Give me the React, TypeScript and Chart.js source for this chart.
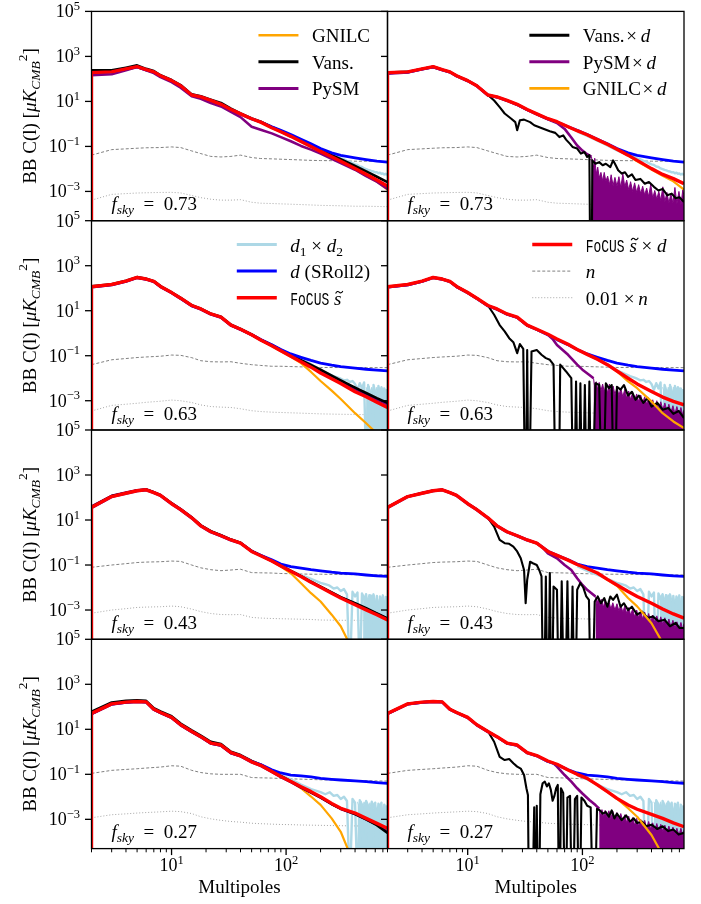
import React, { useEffect, useRef } from 'react';
import { Chart, registerables } from 'chart.js';

Chart.register(...registerables);

// ======================= DATA =======================
const ell = [2, 3, 4, 5, 6, 7, 8, 10, 12, 15, 18, 22, 27, 33, 40, 50, 60, 75, 90, 110, 135, 165, 200, 250, 300, 400, 500, 620, 768];
const ellFocus = [2, 2, 3, 4, 5, 6, 7, 8, 10, 12, 15, 18, 22, 27, 33, 40, 50, 60, 75, 90, 110, 135, 165, 200, 250, 300, 400, 500, 620, 768];
const ellNoise = [2, 3, 4, 5, 6, 8, 10, 12, 15, 18, 22, 27, 33, 40, 50, 60, 75, 90, 110, 135, 165, 200, 300, 400, 500, 768];
const ellD12 = [90, 110, 135, 165, 200, 220, 240, 260, 280, 300, 320, 340, 360, 380, 400, 420, 440, 460, 480, 500, 520, 540, 560, 580, 600, 620, 640, 660, 680, 700, 720, 740, 768];

const fskyLabels = ['0.73', '0.63', '0.43', '0.27'];
const yTickExp = [5, 3, 1, -1, -3];
const xMajorExp = [1, 2];
const xMinorTicks = [2, 3, 4, 5, 6, 7, 8, 9, 20, 30, 40, 50, 60, 70, 80, 90, 200, 300, 400, 500, 600, 700];

// ---- row 1 : fsky = 0.73 ----
const focus_r1 = [1e-9, 190, 205, 280, 350, 258, 205, 138, 84, 50, 19.3, 16, 11.2, 7.4, 4.4, 2.8, 1.7, 1.2, 0.68, 0.45, 0.28, 0.165, 0.1, 0.06, 0.035, 0.022, 0.0105, 0.0058, 0.0032, 0.0017];
const vans_r1 = [240, 240, 316, 400, 280, 224, 145, 89, 53, 20.5, 17, 12, 8.6, 4.8, 2.9, 1.75, 1.25, 0.73, 0.49, 0.31, 0.19, 0.115, 0.07, 0.041, 0.027, 0.0135, 0.0078, 0.0045, 0.0026];
const pysm_r1 = [145, 160, 240, 340, 240, 182, 120, 72, 41, 17, 13, 8.5, 6, 3.4, 2.0, 0.75, 0.55, 0.38, 0.26, 0.17, 0.105, 0.072, 0.048, 0.028, 0.018, 0.0092, 0.0048, 0.0027, 0.0013];
const gnilc_r1 = [188, 203, 277, 346, 255, 203, 136, 83, 49.5, 19.1, 15.8, 11, 7.3, 4.35, 2.75, 1.65, 1.17, 0.66, 0.44, 0.27, 0.16, 0.097, 0.058, 0.033, 0.02, 0.0095, 0.005, 0.0027, 0.0012];
const d_r1 = [185, 200, 273, 342, 252, 200, 134, 82, 49, 18.9, 15.7, 10.9, 7.2, 4.3, 2.75, 1.68, 1.22, 0.75, 0.52, 0.34, 0.21, 0.13, 0.08, 0.052, 0.04, 0.031, 0.026, 0.022, 0.020];
const d12_r1 = [0.45, 0.29, 0.18, 0.11, 0.066, 0.054, 0.046, 0.039, 0.034, 0.029, 0.027, 0.023, 0.021, 0.018, 0.016, 0.015, 0.0128, 0.0122, 0.0105, 0.0098, 0.009, 0.0086, 0.0079, 0.0077, 0.007, 0.0072, 0.0064, 0.0068, 0.006, 0.0063, 0.0057, 0.0061, 0.0055];
const d12fill_r1: number[][] = [];
const n_r1 = [0.041, 0.072, 0.078, 0.083, 0.087, 0.089, 0.095, 0.089, 0.063, 0.048, 0.036, 0.034, 0.036, 0.041, 0.032, 0.029, 0.028, 0.027, 0.026, 0.025, 0.024, 0.0235, 0.023, 0.022, 0.022, 0.021];
const n01_r1 = [4.1e-4, 7.4e-4, 8e-4, 8.5e-4, 8.7e-4, 9e-4, 9.1e-4, 8.6e-4, 6.6e-4, 5.3e-4, 4.5e-4, 4.1e-4, 4.1e-4, 4.3e-4, 3.3e-4, 3.0e-4, 2.9e-4, 2.8e-4, 2.7e-4, 2.6e-4, 2.5e-4, 2.4e-4, 2.3e-4, 2.2e-4, 2.2e-4, 2.1e-4];
const focusD_r1 = [1e-9, 190, 205, 280, 350, 258, 205, 138, 84, 50, 19.3, 16, 11.2, 7.4, 4.4, 2.8, 1.7, 1.25, 0.75, 0.5, 0.33, 0.2, 0.125, 0.075, 0.041, 0.024, 0.0103, 0.0057, 0.0037, 0.0022];
const gnilcD_r1 = [188, 203, 277, 346, 255, 203, 136, 83, 49.5, 19.1, 15.8, 11, 7.3, 4.35, 2.75, 1.68, 1.23, 0.73, 0.49, 0.32, 0.195, 0.12, 0.072, 0.039, 0.022, 0.0095, 0.005, 0.0028, 0.0012];
const pysmD_r1 = [[2, 170], [3, 195], [4, 270], [5, 330], [6, 250], [7, 200], [8, 135], [10, 82], [12, 49], [15, 18.8], [18, 15.5], [22, 10.9], [27, 7.0], [33, 4.2], [40, 2.7], [50, 1.6], [60, 1.1], [70, 0.6], [80, 0.25], [90, 0.11], [100, 0.065], [110, 0.045], [120, 0.034]];
const pysmDnoise_r1 = [[120, 0.034], [124, 0.01], [128, 0.03], [132, 0.006], [136, 0.012], [140, 0.004], [145, 0.007], [150, 0.003], [155, 0.007], [160, 0.0028], [166, 0.0048], [172, 0.002], [178, 0.0055], [185, 0.0018], [192, 0.0042], [200, 0.0017], [208, 0.0045], [216, 0.0015], [225, 0.006], [234, 0.0016], [243, 0.0032], [253, 0.0012], [263, 0.0027], [274, 0.001], [285, 0.0024], [297, 0.0009], [309, 0.002], [322, 0.0008], [335, 0.0017], [349, 0.0007], [363, 0.0014], [378, 0.0006], [394, 0.0021], [410, 0.0005], [427, 0.0011], [445, 0.00045], [463, 0.001], [482, 0.0004], [502, 0.0016], [523, 0.00035], [545, 0.0009], [567, 0.0003], [590, 0.0008], [615, 0.0003], [640, 0.0015], [666, 0.00028], [694, 0.001], [722, 0.00025], [750, 0.0012], [768, 0.0006]];
const vansD_r1 = [[2, 195], [3, 210], [4, 285], [5, 355], [6, 262], [7, 210], [8, 141], [10, 86], [12, 51], [15, 19.5], [17, 11], [19, 5.6], [21, 2.9], [24, 1.7], [26, 1.2], [27, 0.52], [28.5, 1.45], [31, 1.55], [35, 1.2], [38, 0.87], [45, 0.62], [52, 0.47], [58, 0.40], [63, 0.26], [68, 0.31], [72, 0.2], [78, 0.13], [82, 0.095], [90, 0.08], [97, 0.048], [104, 0.056], [110, 0.034], [115, 0.041], [118, 1e-9], [120, 1e-9], [122, 0.024], [130, 0.017], [140, 0.02], [150, 0.0145], [160, 0.017], [175, 0.012], [185, 0.024], [195, 0.0145], [205, 0.0087], [220, 0.0062], [235, 0.0071], [250, 0.0044], [270, 0.0057], [290, 0.0032], [320, 0.0036], [350, 0.0022], [380, 0.0026], [420, 0.0016], [460, 0.0011], [500, 0.0013], [550, 6.7e-4], [600, 8e-4], [650, 5e-4], [700, 5.5e-4], [768, 3.4e-4]];

// ---- row 2 : fsky = 0.63 ----
const focus_r2 = [1e-9, 116, 146, 207, 300, 256, 200, 120, 64, 36, 17, 12, 7.2, 5.2, 2.3, 1.5, 0.85, 0.5, 0.28, 0.165, 0.095, 0.054, 0.031, 0.017, 0.0095, 0.0058, 0.0025, 0.0015, 0.00085, 0.0005];
const vans_r2 = [121, 151, 214, 310, 264, 206, 124, 66, 37, 17.5, 12.4, 7.4, 5.4, 2.4, 1.55, 0.88, 0.52, 0.3, 0.18, 0.105, 0.064, 0.039, 0.024, 0.013, 0.008, 0.0038, 0.0022, 0.0013, 0.0008];
const pysm_r2 = [114, 144, 204, 295, 252, 197, 118, 63, 35, 16.7, 11.8, 7.1, 5.1, 2.25, 1.47, 0.84, 0.5, 0.285, 0.17, 0.1, 0.058, 0.034, 0.02, 0.011, 0.0068, 0.0033, 0.0019, 0.0011, 0.0007];
const gnilc_r2 = [114, 144, 204, 295, 252, 197, 118, 63, 35, 16.7, 11.8, 7.1, 5.1, 2.25, 1.47, 0.83, 0.49, 0.27, 0.158, 0.09, 0.047, 0.019, 0.0075, 0.0028, 0.0012, 2.8e-4, 1.0e-4, 3.5e-5, 1e-5];
const d_r2 = [112, 142, 202, 292, 250, 195, 117, 62, 35, 16.5, 11.7, 7.0, 5.0, 2.25, 1.47, 0.86, 0.52, 0.31, 0.19, 0.12, 0.085, 0.062, 0.047, 0.038, 0.033, 0.028, 0.025, 0.023, 0.021];
const d12_r2 = [0.18, 0.11, 0.068, 0.042, 0.022, 0.018, 0.015, 0.0125, 0.011, 0.0095, 0.008, 0.0085, 0.0068, 0.0075, 0.0055, 0.003, 0.006, 0.0035, 0.0065, 1e-6, 0.005, 0.0025, 1e-6, 0.005, 0.0022, 1e-6, 0.0045, 0.002, 0.004, 1e-6, 0.0035, 0.0018, 0.003];
const d12fill_r2 = [[500, 0.004], [515, 0.0025], [530, 0.0045], [545, 0.002], [560, 0.004], [575, 0.0022], [590, 0.0045], [605, 0.002], [620, 0.004], [640, 0.0018], [660, 0.0035], [680, 0.002], [700, 0.0038], [720, 0.0018], [740, 0.0032], [768, 0.003]];
const n_r2 = [0.040, 0.066, 0.075, 0.083, 0.088, 0.095, 0.107, 0.104, 0.082, 0.06, 0.054, 0.053, 0.054, 0.046, 0.04, 0.037, 0.034, 0.034, 0.033, 0.032, 0.031, 0.030, 0.0298, 0.0297, 0.0296, 0.0295];
const n01_r2 = [3.5e-4, 6.2e-4, 7e-4, 7.7e-4, 8.5e-4, 9.5e-4, 1.07e-3, 1.0e-3, 8.3e-4, 6.5e-4, 5.5e-4, 5.2e-4, 5e-4, 4.4e-4, 3.6e-4, 3.3e-4, 3.1e-4, 3e-4, 2.9e-4, 2.8e-4, 2.7e-4, 2.6e-4, 2.5e-4, 2.45e-4, 2.4e-4, 2.4e-4];
const focusD_r2 = [1e-9, 116, 146, 207, 300, 256, 200, 120, 64, 36, 17, 12, 7.2, 5.2, 2.3, 1.5, 0.9, 0.55, 0.32, 0.19, 0.115, 0.07, 0.04, 0.021, 0.01, 0.0056, 0.0026, 0.00145, 0.00093, 0.00066];
const gnilcD_r2 = [114, 144, 204, 295, 252, 197, 118, 63, 35, 16.7, 11.8, 7.1, 5.1, 2.25, 1.47, 0.88, 0.54, 0.315, 0.187, 0.113, 0.069, 0.039, 0.02, 0.0072, 0.0036, 9.3e-4, 2.8e-4, 1.2e-4, 6.1e-5];
const pysmD_r2 = [[2, 110], [3, 140], [4, 200], [5, 292], [6, 250], [7, 195], [8, 116], [10, 62], [12, 35], [15, 16.5], [18, 11.6], [22, 7.0], [27, 5.0], [33, 2.2], [40, 1.45], [50, 0.85], [55, 0.55], [60, 0.3], [75, 0.11], [90, 0.04], [100, 0.024], [115, 0.014], [125, 0.01]];
const pysmDnoise_r2 = [[125, 0.01], [128, 0.004], [132, 0.007], [136, 0.003], [140, 0.0065], [145, 0.0028], [150, 0.0055], [155, 0.0025], [160, 0.005], [166, 0.0022], [172, 0.0055], [178, 0.002], [185, 0.0045], [192, 0.0019], [200, 0.004], [208, 0.0017], [216, 0.0035], [225, 0.0015], [234, 0.0032], [243, 0.0013], [253, 0.0027], [263, 0.0011], [274, 0.0024], [285, 0.001], [297, 0.002], [309, 0.0009], [322, 0.0018], [335, 0.0008], [349, 0.0015], [363, 0.0007], [378, 0.0013], [394, 0.0006], [410, 0.0011], [427, 0.0005], [445, 0.001], [463, 0.00045], [482, 0.0009], [502, 0.0004], [523, 0.0008], [545, 0.00035], [567, 0.0007], [590, 0.0003], [615, 0.0006], [640, 0.00027], [666, 0.00055], [694, 0.00024], [722, 0.0005], [750, 0.00022], [768, 0.0004]];
const vansD_r2 = [[2, 118], [3, 148], [4, 210], [5, 305], [6, 260], [7, 204], [8, 123], [10, 66], [12, 37], [15, 17], [17, 6.6], [19, 2.3], [21, 1.2], [23, 0.6], [25, 0.4], [27, 0.13], [28.5, 0.33], [30.5, 0.2], [32, 1e-9], [33, 0.18], [34, 1e-9], [36, 0.155], [40, 0.18], [44, 0.11], [48, 0.078], [52, 0.066], [56, 0.04], [59, 1e-9], [62, 1e-9], [64, 0.04], [68, 0.028], [72, 0.02], [76, 0.014], [80, 0.01], [84, 1e-9], [88, 0.0072], [92, 1e-9], [96, 0.006], [100, 1e-9], [105, 0.005], [110, 1e-9], [115, 0.0072], [120, 1e-9], [130, 0.006], [140, 0.005], [150, 1e-9], [160, 0.006], [170, 0.0036], [180, 0.005], [190, 1e-9], [200, 0.0042], [215, 0.0031], [230, 0.005], [250, 0.0017], [270, 0.0025], [290, 0.0011], [310, 0.0017], [340, 8e-4], [370, 0.0013], [400, 5.5e-4], [450, 8e-4], [500, 4e-4], [560, 4.8e-4], [620, 2.6e-4], [690, 3.5e-4], [768, 1.7e-4]];

// ---- row 3 : fsky = 0.43 ----
const focus_r3 = [1e-9, 36, 110, 155, 200, 220, 165, 124, 53, 29, 12.5, 5.5, 3.0, 2.0, 1.3, 0.93, 0.40, 0.26, 0.15, 0.09, 0.053, 0.031, 0.017, 0.0103, 0.0056, 0.0034, 0.0017, 0.00102, 0.00062, 0.00036];
const vans_r3 = [38, 115, 160, 205, 225, 170, 127, 55, 30, 13, 5.8, 3.2, 2.1, 1.35, 0.97, 0.42, 0.27, 0.155, 0.093, 0.055, 0.032, 0.018, 0.011, 0.006, 0.0037, 0.002, 0.0012, 7e-4, 4.2e-4];
const pysm_r3 = [40, 118, 165, 208, 228, 172, 129, 56, 30.5, 13.1, 5.7, 3.1, 2.05, 1.33, 0.95, 0.41, 0.265, 0.152, 0.091, 0.054, 0.0315, 0.0175, 0.0105, 0.0058, 0.0036, 0.0019, 0.0011, 6.8e-4, 4.0e-4];
const gnilc_r3 = [36, 110, 155, 200, 220, 165, 124, 53, 29, 12.5, 5.5, 3.0, 2.0, 1.3, 0.93, 0.40, 0.26, 0.15, 0.085, 0.043, 0.0156, 0.0056, 0.0024, 6.2e-4, 1.9e-4, 1e-5, 1e-6, 1e-7, 1e-8];
const d_r3 = [35, 108, 152, 196, 216, 162, 122, 52, 28.5, 12.2, 5.4, 2.95, 1.97, 1.28, 0.93, 0.41, 0.27, 0.17, 0.11, 0.085, 0.073, 0.062, 0.055, 0.048, 0.044, 0.04, 0.036, 0.033, 0.031];
const d12_r3 = [0.088, 0.055, 0.036, 0.024, 0.016, 0.014, 0.012, 0.009, 0.01, 0.007, 0.0085, 0.005, 1e-6, 0.0065, 0.004, 0.006, 1e-6, 0.0055, 0.003, 0.005, 1e-6, 0.0045, 0.0025, 0.005, 1e-6, 0.0042, 1e-6, 0.004, 0.002, 0.0045, 1e-6, 0.0038, 0.0035];
const d12fill_r3 = [[470, 0.005], [485, 0.003], [500, 0.0055], [515, 0.0028], [530, 0.005], [545, 0.0025], [560, 0.0048], [575, 0.0025], [590, 0.0045], [605, 0.0022], [620, 0.0045], [640, 0.0022], [660, 0.004], [680, 0.002], [700, 0.0042], [720, 0.002], [740, 0.0038], [768, 0.0035]];
const n_r3 = [0.079, 0.1, 0.115, 0.129, 0.135, 0.14, 0.15, 0.145, 0.1, 0.075, 0.062, 0.056, 0.06, 0.065, 0.046, 0.045, 0.044, 0.042, 0.041, 0.040, 0.039, 0.039, 0.038, 0.037, 0.037, 0.036];
const n01_r3 = [7.2e-4, 1.0e-3, 1.15e-3, 1.3e-3, 1.35e-3, 1.4e-3, 1.5e-3, 1.4e-3, 1.1e-3, 8.5e-4, 7e-4, 6.3e-4, 6.2e-4, 6.3e-4, 4.7e-4, 4.4e-4, 4.2e-4, 4.1e-4, 4.0e-4, 3.9e-4, 3.8e-4, 3.6e-4, 3.5e-4, 3.5e-4, 3.4e-4, 3.4e-4];
const focusD_r3 = [1e-9, 36, 110, 155, 200, 220, 165, 124, 53, 29, 12.5, 5.5, 3.0, 2.0, 1.3, 0.93, 0.40, 0.27, 0.165, 0.105, 0.07, 0.044, 0.023, 0.013, 0.0066, 0.004, 0.002, 0.00112, 0.00067, 0.00044];
const gnilcD_r3 = [35, 108, 152, 196, 216, 162, 122, 52, 28.5, 12.3, 5.4, 2.95, 1.97, 1.28, 0.91, 0.39, 0.265, 0.162, 0.103, 0.068, 0.043, 0.022, 0.012, 0.0034, 0.00145, 2.6e-4, 3.5e-5, 5e-6, 1e-6];
const pysmD_r3 = [[2, 37], [3, 112], [4, 158], [5, 204], [6, 223], [7, 167], [8, 126], [10, 54], [12, 29.5], [15, 12.7], [18, 5.6], [22, 3.0], [27, 2.0], [33, 1.32], [40, 0.94], [45, 0.6], [50, 0.33], [60, 0.2], [70, 0.1], [80, 0.06], [90, 0.026], [100, 0.013], [110, 0.0079], [120, 0.0056], [130, 0.004]];
const pysmDnoise_r3 = [[130, 0.004], [134, 0.0018], [138, 0.0035], [142, 0.0015], [147, 0.003], [152, 0.0013], [158, 0.0028], [164, 0.0012], [170, 0.0025], [177, 0.0011], [184, 0.0021], [192, 0.001], [200, 0.0019], [208, 0.0009], [216, 0.0017], [225, 0.0008], [234, 0.0015], [243, 0.0007], [253, 0.0013], [263, 0.0006], [274, 0.0011], [285, 0.0005], [297, 0.001], [309, 0.00045], [322, 0.0009], [335, 0.0004], [349, 0.0008], [363, 0.00035], [378, 0.0007], [394, 0.0003], [410, 0.0006], [427, 0.00028], [445, 0.00055], [463, 0.00025], [482, 0.0005], [502, 0.00022], [523, 0.00045], [545, 0.0002], [567, 0.0004], [590, 0.00018], [615, 0.00035], [640, 0.00016], [666, 0.0003], [694, 0.00014], [722, 0.00028], [750, 0.00013], [768, 0.00025]];
const vansD_r3 = [[2, 37], [3, 112], [4, 157], [5, 203], [6, 223], [7, 167], [8, 126], [10, 54], [12, 29.5], [15, 12.3], [17, 5.1], [19, 1.3], [21, 0.93], [23, 0.88], [25, 0.66], [27, 0.40], [29, 0.2], [31, 0.06], [32, 0.002], [33, 0.022], [35, 0.14], [37, 0.12], [40, 0.1], [42, 0.06], [44, 0.031], [46, 1e-9], [48, 0.031], [50, 1e-9], [52, 0.044], [54, 1e-9], [56, 0.011], [60, 0.008], [63, 1e-9], [66, 0.019], [70, 1e-9], [74, 0.019], [78, 1e-9], [82, 0.011], [86, 1e-9], [90, 0.008], [96, 0.016], [102, 0.0097], [108, 0.004], [114, 0.0028], [120, 1e-9], [128, 0.0024], [136, 0.004], [145, 0.002], [155, 0.0034], [165, 0.0014], [175, 0.004], [185, 0.0028], [200, 0.0048], [215, 0.0014], [230, 0.002], [250, 0.001], [270, 0.0014], [300, 6.2e-4], [330, 8.6e-4], [370, 4.4e-4], [410, 5.2e-4], [460, 3.2e-4], [520, 3.7e-4], [580, 1.9e-4], [650, 2.7e-4], [700, 1.6e-4], [768, 1.6e-4]];

// ---- row 4 : fsky = 0.27 ----
const focus_r4 = [1e-9, 51, 135, 161, 173, 166, 78, 56, 34, 16, 8, 4.7, 2.45, 2.0, 0.92, 0.66, 0.36, 0.25, 0.135, 0.08, 0.048, 0.028, 0.017, 0.010, 0.0051, 0.0031, 0.0019, 0.0011, 0.00066, 0.0004];
const vans_r4 = [60, 155, 185, 195, 183, 86, 62, 38, 18, 9, 5.3, 2.8, 2.2, 1.0, 0.72, 0.39, 0.27, 0.145, 0.084, 0.049, 0.027, 0.016, 0.0095, 0.0048, 0.003, 0.0017, 0.001, 0.00055, 0.00025];
const pysm_r4 = [47, 128, 155, 168, 162, 76, 54, 33, 15.5, 7.7, 4.5, 2.35, 1.9, 0.87, 0.63, 0.34, 0.24, 0.128, 0.076, 0.045, 0.026, 0.0155, 0.0092, 0.0047, 0.0029, 0.0017, 0.001, 0.00058, 0.00028];
const gnilc_r4 = [50, 133, 159, 171, 164, 77, 55, 33.5, 15.7, 7.9, 4.6, 2.4, 1.95, 0.9, 0.65, 0.355, 0.245, 0.132, 0.078, 0.046, 0.024, 0.0103, 0.0044, 0.0011, 2.8e-4, 8e-6, 1e-7, 1e-8, 1e-9];
const d_r4 = [49, 132, 158, 169, 162, 76, 55, 33, 15.6, 7.8, 4.6, 2.4, 1.95, 0.9, 0.66, 0.37, 0.27, 0.16, 0.115, 0.093, 0.085, 0.077, 0.066, 0.06, 0.056, 0.051, 0.047, 0.043, 0.040];
const d12_r4 = [0.09, 0.06, 0.035, 0.022, 0.016, 0.013, 0.016, 0.011, 0.012, 0.008, 0.01, 0.0065, 1e-6, 0.008, 0.0055, 1e-6, 0.007, 0.0045, 1e-6, 0.0065, 0.004, 1e-6, 0.006, 0.0035, 0.0055, 1e-6, 0.005, 0.003, 0.0055, 1e-6, 0.0045, 0.003, 0.004];
const d12fill_r4 = [[420, 0.006], [435, 0.0035], [450, 0.0065], [465, 0.0032], [480, 0.006], [495, 0.003], [510, 0.0058], [525, 0.003], [540, 0.0055], [555, 0.0028], [570, 0.0055], [585, 0.0028], [600, 0.005], [620, 0.0026], [640, 0.005], [660, 0.0025], [680, 0.0048], [700, 0.0025], [720, 0.0045], [740, 0.0025], [768, 0.004]];
const n_r4 = [0.11, 0.15, 0.165, 0.177, 0.19, 0.21, 0.24, 0.23, 0.15, 0.12, 0.105, 0.10, 0.10, 0.10, 0.072, 0.07, 0.068, 0.065, 0.063, 0.061, 0.059, 0.057, 0.055, 0.053, 0.052, 0.05];
const n01_r4 = [1.17e-3, 1.6e-3, 1.75e-3, 1.9e-3, 2.0e-3, 2.15e-3, 2.3e-3, 2.2e-3, 1.8e-3, 1.3e-3, 1.05e-3, 9e-4, 8e-4, 7.5e-4, 6.7e-4, 6.4e-4, 6.1e-4, 5.9e-4, 5.8e-4, 5.6e-4, 5.5e-4, 5.4e-4, 5.2e-4, 5.1e-4, 5.0e-4, 5.0e-4];
const focusD_r4 = [1e-9, 51, 135, 161, 173, 166, 78, 56, 34, 16, 8, 4.7, 2.45, 2.0, 0.92, 0.68, 0.39, 0.28, 0.155, 0.10, 0.066, 0.034, 0.017, 0.0085, 0.0043, 0.0028, 0.00165, 0.0011, 0.0007, 0.00047];
const gnilcD_r4 = [50, 133, 159, 171, 164, 77, 55, 33.5, 15.7, 7.9, 4.6, 2.4, 1.95, 0.9, 0.67, 0.38, 0.275, 0.152, 0.098, 0.065, 0.033, 0.0165, 0.0082, 0.0031, 0.0013, 2.0e-4, 2.6e-5, 1e-6, 1e-7];
const pysmD_r4 = [[2, 49], [3, 132], [4, 157], [5, 169], [6, 163], [7, 77], [8, 55], [10, 33.5], [12, 15.7], [15, 7.9], [18, 4.6], [22, 2.4], [27, 1.95], [33, 0.9], [40, 0.66], [50, 0.37], [55, 0.33], [60, 0.22], [70, 0.093], [80, 0.047], [90, 0.024], [100, 0.014], [115, 0.0072], [130, 0.0043], [140, 0.003]];
const pysmDnoise_r4 = [[140, 0.003], [144, 0.0014], [148, 0.0027], [153, 0.0013], [158, 0.0025], [164, 0.0012], [170, 0.0024], [177, 0.0011], [184, 0.0023], [192, 0.001], [200, 0.002], [208, 0.0009], [216, 0.0018], [225, 0.0008], [234, 0.0016], [243, 0.0007], [253, 0.0014], [263, 0.0006], [274, 0.0012], [285, 0.00055], [297, 0.0011], [309, 0.0005], [322, 0.001], [335, 0.00045], [349, 0.0009], [363, 0.0004], [378, 0.0008], [394, 0.00036], [410, 0.0007], [427, 0.00032], [445, 0.00065], [463, 0.0003], [482, 0.0006], [502, 0.00028], [523, 0.00055], [545, 0.00026], [567, 0.0005], [590, 0.00024], [615, 0.00045], [640, 0.00022], [666, 0.0004], [694, 0.0002], [722, 0.0004], [750, 0.00019], [768, 0.00035]];
const vansD_r4 = [[2, 52], [3, 138], [4, 164], [5, 176], [6, 169], [7, 80], [8, 57], [10, 34.5], [12, 16.3], [15, 8.2], [17, 2.8], [19, 0.6], [21, 0.43], [23, 0.48], [25, 0.31], [27, 0.22], [29, 0.18], [31, 0.093], [32.5, 0.024], [33.5, 0.012], [34.5, 1e-9], [36, 1e-9], [38, 0.0034], [39, 1e-9], [40, 0.004], [41.5, 1e-9], [43, 0.013], [45, 0.04], [47, 0.047], [49, 0.029], [51, 0.04], [53, 0.021], [55, 0.0067], [57, 0.011], [59, 0.024], [61, 0.034], [63, 1e-9], [65, 0.024], [68, 0.015], [71, 1e-9], [74, 0.0093], [78, 0.011], [82, 1e-9], [86, 0.0079], [90, 0.011], [94, 1e-9], [98, 0.0093], [104, 0.0067], [110, 0.004], [118, 0.0034], [126, 1e-9], [134, 0.0029], [142, 0.0025], [150, 0.0018], [160, 0.0021], [170, 0.0013], [180, 0.0025], [190, 0.0011], [200, 0.0018], [220, 9.3e-4], [240, 0.0015], [260, 8e-4], [280, 0.0011], [300, 6.8e-4], [330, 8e-4], [360, 4.9e-4], [400, 5.8e-4], [450, 3.7e-4], [500, 4.9e-4], [560, 3.0e-4], [620, 3.5e-4], [690, 2.1e-4], [768, 2.5e-4]];

// ======================= LAYOUT / STYLE =======================
const W = 701;
const H = 904;
const COLS = [[91.5, 387.5], [387.5, 684]];
const ROW_TOP = [11.4, 220.7, 430, 639.3];
const ROW_H = 209.3;

const SERIF = '"Liberation Serif", "DejaVu Serif", serif';
const fR = (s: number) => `${s}px ${SERIF}`;
const fI = (s: number) => `italic ${s}px ${SERIF}`;
const TT = '18px "Liberation Mono", "DejaVu Sans Mono", monospace';
const FS = 19;
const FSS = 13.5;

type Sty = { c: string; w: number; dash?: number[] };
const STY: Record<string, Sty> = {
  focus: { c: '#ff0000', w: 3.4 },
  d: { c: '#0000ff', w: 2.8 },
  d12: { c: '#add8e6', w: 2.4 },
  pysm: { c: '#800080', w: 2.6 },
  vans: { c: '#000000', w: 2.6 },
  vansD: { c: '#000000', w: 2.1 },
  gnilc: { c: '#ffa500', w: 2.2 },
  n: { c: '#808080', w: 1, dash: [3, 2] },
  n01: { c: '#a6a6a6', w: 1, dash: [1, 2] },
};

type Pt = { x: number; y: number };
const zip = (xs: number[], ys: number[]): Pt[] => xs.map((x, i) => ({ x, y: ys[i] }));
const fromPairs = (p: number[][]): Pt[] => p.map((q) => ({ x: q[0], y: q[1] }));

function ds(data: Pt[], s: Sty, extra: any = {}) {
  return {
    data,
    borderColor: s.c,
    backgroundColor: s.c,
    borderWidth: s.w,
    borderDash: s.dash || [],
    borderJoinStyle: 'round',
    pointRadius: 0,
    fill: false,
    tension: 0,
    clip: 0,
    ...extra,
  };
}

type Seg = { t: string; f: string; dy?: number; sx?: number; tilde?: boolean };
function segW(ctx: CanvasRenderingContext2D, s: Seg) {
  ctx.font = s.f;
  return ctx.measureText(s.t).width * (s.sx || 1);
}
function richW(ctx: CanvasRenderingContext2D, segs: Seg[]) {
  let w = 0;
  for (const s of segs) w += segW(ctx, s);
  return w;
}
function drawRich(ctx: CanvasRenderingContext2D, segs: Seg[], x: number, y: number) {
  let cx = x;
  for (const s of segs) {
    const w = segW(ctx, s);
    ctx.font = s.f;
    ctx.save();
    ctx.translate(cx, y + (s.dy || 0));
    if (s.sx) ctx.scale(s.sx, 1);
    ctx.fillText(s.t, 0, 0);
    ctx.restore();
    if (s.tilde) {
      const mx = cx + w * 0.55 + 1.2;
      const my = y - 12.5;
      ctx.save();
      ctx.lineWidth = 1.1;
      ctx.beginPath();
      ctx.moveTo(mx - 3.6, my + 1.3);
      ctx.quadraticCurveTo(mx - 1.8, my - 1.9, mx, my);
      ctx.quadraticCurveTo(mx + 1.8, my + 1.9, mx + 3.6, my - 1.3);
      ctx.stroke();
      ctx.restore();
    }
    cx += w;
  }
}

const R = fR(FS), I = fI(FS), RS = fR(FSS), IS = fI(FSS);
type LegItem = { s: Sty; lw?: number; segs: Seg[] };
const LEGENDS: Record<string, LegItem[]> = {
  '0-0': [
    { s: STY.gnilc, lw: 2.6, segs: [{ t: 'GNILC', f: R }] },
    { s: STY.vans, lw: 3, segs: [{ t: 'Vans.', f: R }] },
    { s: STY.pysm, lw: 3, segs: [{ t: 'PySM', f: R }] },
  ],
  '0-1': [
    { s: STY.vans, lw: 3, segs: [{ t: 'Vans.\u200a×\u2009', f: R }, { t: 'd', f: I }] },
    { s: STY.pysm, lw: 3, segs: [{ t: 'PySM\u200a×\u2009', f: R }, { t: 'd', f: I }] },
    { s: STY.gnilc, lw: 2.6, segs: [{ t: 'GNILC\u200a×\u2009', f: R }, { t: 'd', f: I }] },
  ],
  '1-0': [
    { s: STY.d12, lw: 3, segs: [{ t: 'd', f: I }, { t: '1', f: RS, dy: 4 }, { t: ' × ', f: R }, { t: 'd', f: I }, { t: '2', f: RS, dy: 4 }] },
    { s: STY.d, lw: 3, segs: [{ t: 'd', f: I }, { t: ' (SRoll2)', f: R }] },
    { s: STY.focus, lw: 3.4, segs: [{ t: 'FoCUS', f: TT, sx: 0.72 }, { t: ' ', f: R }, { t: 's', f: I, tilde: true }] },
  ],
  '1-1': [
    { s: STY.focus, lw: 3.4, segs: [{ t: 'FoCUS', f: TT, sx: 0.72 }, { t: ' ', f: R }, { t: 's', f: I, tilde: true }, { t: ' × ', f: R }, { t: 'd', f: I }] },
    { s: STY.n, segs: [{ t: 'n', f: I }] },
    { s: STY.n01, segs: [{ t: '0.01 ×\u2009', f: R }, { t: 'n', f: I }] },
  ],
};
const LEG_ROWS = [23.8, 50.4, 77];

type PanelCfg = { row: number; col: number; datasets: any[] };

function decor(p: PanelCfg) {
  return {
    id: 'decor' + p.row + p.col,
    afterDraw(chart: any) {
      const ctx: CanvasRenderingContext2D = chart.ctx;
      const a = chart.chartArea;
      const xs = chart.scales.x;
      const ys = chart.scales.y;
      ctx.save();
      ctx.strokeStyle = '#000';
      ctx.fillStyle = '#000';
      ctx.textAlign = 'left';
      ctx.textBaseline = 'alphabetic';
      ctx.setLineDash([]);
      // y ticks (outward)
      ctx.lineWidth = 1.3;
      for (const e of yTickExp) {
        const py = ys.getPixelForValue(Math.pow(10, e));
        ctx.beginPath();
        ctx.moveTo(a.left - 6.5, py);
        ctx.lineTo(a.left, py);
        ctx.stroke();
      }
      const bottomRow = p.row === 3;
      if (bottomRow) {
        for (const e of xMajorExp) {
          const px = xs.getPixelForValue(Math.pow(10, e));
          ctx.lineWidth = 1.3;
          ctx.beginPath();
          ctx.moveTo(px, a.bottom);
          ctx.lineTo(px, a.bottom + 6.5);
          ctx.stroke();
        }
        ctx.lineWidth = 1;
        for (const v of xMinorTicks) {
          const px = xs.getPixelForValue(v);
          ctx.beginPath();
          ctx.moveTo(px, a.bottom);
          ctx.lineTo(px, a.bottom + 3.7);
          ctx.stroke();
        }
      }
      // frame
      ctx.lineWidth = 1.3;
      ctx.strokeRect(a.left, a.top, a.right - a.left, a.bottom - a.top);

      const expStr = (e: number) => (e < 0 ? '\u2212' + Math.abs(e) : String(e));
      // y tick labels
      if (p.col === 0) {
        for (const e of yTickExp) {
          const py = ys.getPixelForValue(Math.pow(10, e));
          const segs: Seg[] = [{ t: '10', f: fR(18) }, { t: expStr(e), f: fR(12.5), dy: -7.5 }];
          const w = richW(ctx, segs);
          drawRich(ctx, segs, a.left - 11.5 - w, py + 6);
        }
        // y axis title (rotated)
        const ySegs: Seg[] = [
          { t: 'BB C(l) [', f: R },
          { t: 'μK', f: I },
          { t: 'CMB', f: IS, dy: 4 },
          { t: '2', f: RS, dy: -9 },
          { t: ']', f: R },
        ];
        const tw = richW(ctx, ySegs);
        ctx.save();
        ctx.translate(29, (a.top + a.bottom) / 2);
        ctx.rotate(-Math.PI / 2);
        drawRich(ctx, ySegs, -tw / 2, 6.5);
        ctx.restore();
      }
      if (bottomRow) {
        for (const e of xMajorExp) {
          const px = xs.getPixelForValue(Math.pow(10, e));
          const segs: Seg[] = [{ t: '10', f: fR(18) }, { t: expStr(e), f: fR(12.5), dy: -7.5 }];
          const w = richW(ctx, segs);
          drawRich(ctx, segs, px - w / 2, a.bottom + 22.5);
        }
        ctx.font = R;
        const tw = ctx.measureText('Multipoles').width;
        ctx.fillText('Multipoles', (a.left + a.right) / 2 - tw / 2, a.bottom + 44.5);
      }
      // fsky annotation
      drawRich(ctx, [
        { t: 'f', f: I },
        { t: 'sky', f: IS, dy: 4 },
        { t: '\u2002=\u2002' + fskyLabels[p.row], f: R },
      ], a.left + 20, a.bottom - 10.5);

      // legend
      const leg = LEGENDS[p.row + '-' + p.col];
      if (leg) {
        let maxW = 0;
        for (const it of leg) maxW = Math.max(maxW, richW(ctx, it.segs));
        const hx = a.right - 17.5 - maxW - 53.5;
        leg.forEach((it, i) => {
          const ly = a.top + LEG_ROWS[i];
          ctx.save();
          ctx.strokeStyle = it.s.c;
          ctx.lineWidth = it.lw || it.s.w;
          ctx.setLineDash(it.s.dash || []);
          ctx.beginPath();
          ctx.moveTo(hx, ly);
          ctx.lineTo(hx + 40, ly);
          ctx.stroke();
          ctx.restore();
          ctx.fillStyle = '#000';
          ctx.strokeStyle = '#000';
          drawRich(ctx, it.segs, hx + 53.5, ly + 7);
        });
      }
      ctx.restore();
    },
  };
}

type RowData = {
  focus: number[]; vans: number[]; pysm: number[]; gnilc: number[]; d: number[]; d12: number[]; d12fill: number[][];
  n: number[]; n01: number[]; focusD: number[]; gnilcD: number[]; pysmD: number[][]; pysmDn: number[][]; vansD: number[][];
};
const ROWS: RowData[] = [
  { focus: focus_r1, vans: vans_r1, pysm: pysm_r1, gnilc: gnilc_r1, d: d_r1, d12: d12_r1, d12fill: d12fill_r1, n: n_r1, n01: n01_r1, focusD: focusD_r1, gnilcD: gnilcD_r1, pysmD: pysmD_r1, pysmDn: pysmDnoise_r1, vansD: vansD_r1 },
  { focus: focus_r2, vans: vans_r2, pysm: pysm_r2, gnilc: gnilc_r2, d: d_r2, d12: d12_r2, d12fill: d12fill_r2, n: n_r2, n01: n01_r2, focusD: focusD_r2, gnilcD: gnilcD_r2, pysmD: pysmD_r2, pysmDn: pysmDnoise_r2, vansD: vansD_r2 },
  { focus: focus_r3, vans: vans_r3, pysm: pysm_r3, gnilc: gnilc_r3, d: d_r3, d12: d12_r3, d12fill: d12fill_r3, n: n_r3, n01: n01_r3, focusD: focusD_r3, gnilcD: gnilcD_r3, pysmD: pysmD_r3, pysmDn: pysmDnoise_r3, vansD: vansD_r3 },
  { focus: focus_r4, vans: vans_r4, pysm: pysm_r4, gnilc: gnilc_r4, d: d_r4, d12: d12_r4, d12fill: d12fill_r4, n: n_r4, n01: n01_r4, focusD: focusD_r4, gnilcD: gnilcD_r4, pysmD: pysmD_r4, pysmDn: pysmDnoise_r4, vansD: vansD_r4 },
];

function buildPanels(): PanelCfg[] {
  const out: PanelCfg[] = [];
  ROWS.forEach((r, row) => {
    const d12fill = () => ds(fromPairs(r.d12fill), { c: '#add8e6', w: 1 }, { fill: 'start', backgroundColor: '#add8e6' });
    out.push({
      row, col: 0,
      datasets: [
        ds(zip(ellFocus, r.focus), STY.focus),
        ds(zip(ell, r.d), STY.d),
        ds(zip(ell, r.vans), STY.vans),
        ds(zip(ell, r.pysm), STY.pysm),
        ds(zip(ell, r.gnilc), STY.gnilc),
        ds(zip(ellD12, r.d12), STY.d12),
        d12fill(),
        ds(zip(ellNoise, r.n), STY.n),
        ds(zip(ellNoise, r.n01), STY.n01),
      ],
    });
    out.push({
      row, col: 1,
      datasets: [
        ds(zip(ellFocus, r.focusD), STY.focus),
        ds(zip(ell, r.gnilcD), STY.gnilc),
        ds(zip(ell, r.d), STY.d),
        ds(fromPairs(r.vansD), STY.vansD),
        ds(fromPairs(r.pysmD), STY.pysm),
        ds(fromPairs(r.pysmDn), { c: '#800080', w: 1 }, { fill: 'start', backgroundColor: '#800080' }),
        ds(zip(ellD12, r.d12), STY.d12),
        d12fill(),
        ds(zip(ellNoise, r.n), STY.n),
        ds(zip(ellNoise, r.n01), STY.n01),
      ],
    });
  });
  return out;
}

function Panel({ p }: { p: PanelCfg }) {
  const ref = useRef<HTMLCanvasElement | null>(null);
  useEffect(() => {
    const [x0, x1] = COLS[p.col];
    const y0 = ROW_TOP[p.row];
    const y1 = y0 + ROW_H;
    const chart = new Chart(ref.current as HTMLCanvasElement, {
      type: 'line',
      data: { datasets: p.datasets },
      options: {
        animation: false,
        responsive: false,
        maintainAspectRatio: false,
        events: [],
        layout: { padding: { left: x0, top: y0, right: W - x1, bottom: H - y1 } },
        plugins: { legend: { display: false }, tooltip: { enabled: false }, title: { display: false } },
        scales: {
          x: { type: 'logarithmic', min: 2, max: 768, display: false, bounds: 'data' },
          y: { type: 'logarithmic', min: 5e-5, max: 1e5, display: false, bounds: 'data' },
        },
        elements: { point: { radius: 0 }, line: { tension: 0 } },
      } as any,
      plugins: [decor(p)],
    } as any);
    return () => chart.destroy();
  }, []);
  return (
    <canvas
      ref={ref}
      width={W}
      height={H}
      style={{ position: 'absolute', left: 0, top: 0, width: W, height: H }}
    />
  );
}

export default function App() {
  const panels = buildPanels();
  return (
    <div style={{ position: 'absolute', left: 0, top: 0, width: W, height: H, background: '#ffffff', overflow: 'hidden' }}>
      {panels.map((p, i) => (
        <Panel key={i} p={p} />
      ))}
    </div>
  );
}
